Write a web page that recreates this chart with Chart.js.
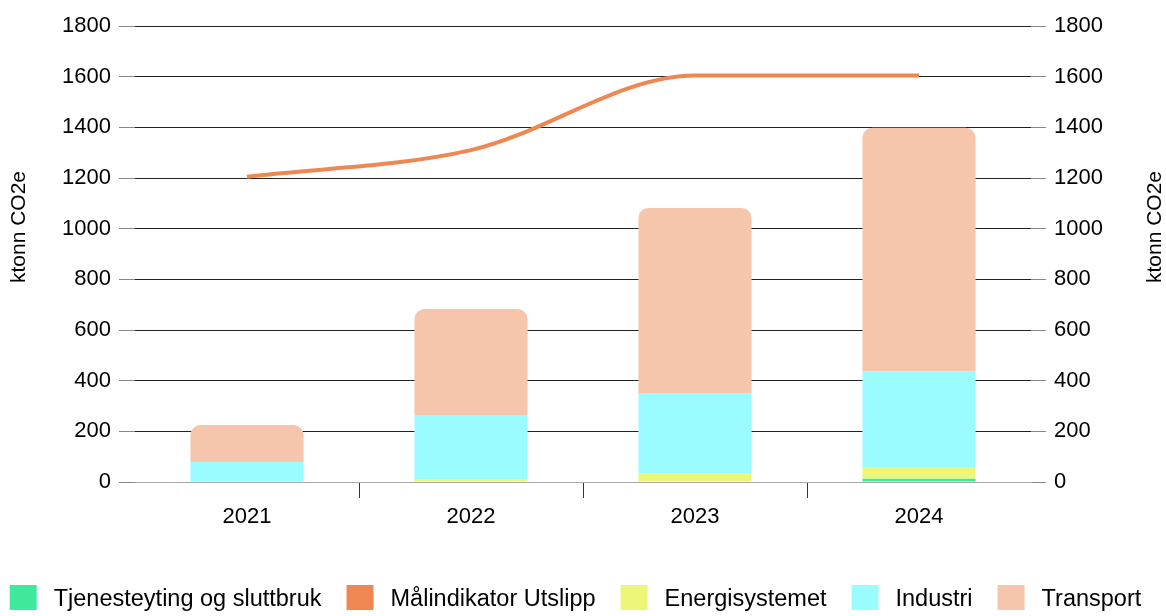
<!DOCTYPE html>
<html>
<head>
<meta charset="utf-8">
<script src="https://cdn.jsdelivr.net/npm/chart.js@4/dist/chart.umd.min.js"></script>
<style>
  html, body { margin: 0; padding: 0; background: #fff; }
  #wrap { width: 1166px; height: 616px; position: relative; }
</style>
</head>
<body>
<div id="wrap"><canvas id="c" width="1166" height="616"></canvas></div>
<script>
const categories = ['2021', '2022', '2023', '2024'];
const tjenesteyting = [0, 0, 0, 13];
const malindikator = [1205, 1310, 1605, 1605];
const energisystemet = [2, 11, 33, 43];
const industri = [77, 253, 318, 381];
const transport = [146, 419, 731, 961];
const yTicks = [0, 200, 400, 600, 800, 1000, 1200, 1400, 1600, 1800];
const axisTitle = 'ktonn CO2e';

const FONT = "'Liberation Sans', Arial, sans-serif";

const titlesPlugin = {
  id: 'axisTitles',
  afterDraw(chart) {
    const ctx = chart.ctx;
    [[19, 227], [1155, 227]].forEach(([x, y]) => {
      ctx.save();
      ctx.fillStyle = '#000';
      ctx.font = '21px ' + FONT;
      ctx.textAlign = 'center';
      ctx.textBaseline = 'middle';
      ctx.translate(x, y);
      ctx.rotate(-Math.PI / 2);
      ctx.fillText(axisTitle, 0, 0);
      ctx.restore();
    });
  }
};

const legendPlugin = {
  id: 'customLegend',
  afterDraw(chart) {
    const ctx = chart.ctx;
    ctx.save();
    ctx.font = '23.5px ' + FONT;
    const boxW = 27, boxH = 25, textGap = 44, itemGap = 25;
    const items = chart.data.datasets.map(d => ({
      text: d.label,
      color: d.type === 'line' ? d.borderColor : d.backgroundColor
    }));
    let total = 0;
    items.forEach((it, i) => {
      it.w = ctx.measureText(it.text).width;
      total += textGap + it.w + (i < items.length - 1 ? itemGap : 0);
    });
    let x = 575.5 - total / 2;
    const boxTop = 585;
    items.forEach(it => {
      ctx.fillStyle = it.color;
      ctx.fillRect(x, boxTop, boxW, boxH);
      ctx.fillStyle = '#000';
      ctx.textAlign = 'left';
      ctx.textBaseline = 'middle';
      ctx.fillText(it.text, x + textGap, boxTop + boxH / 2 + 2);
      x += textGap + it.w + itemGap;
    });
    ctx.restore();
  }
};

new Chart(document.getElementById('c'), {
  data: {
    labels: categories,
    datasets: [
      { type: 'bar', label: 'Tjenesteyting og sluttbruk', data: tjenesteyting, backgroundColor: '#40E89C', yAxisID: 'y', stack: 's' },
      { type: 'line', label: 'Målindikator Utslipp', data: malindikator, borderColor: '#EE8752', backgroundColor: '#EE8752',
        borderWidth: 4, pointRadius: 0, pointHoverRadius: 0, cubicInterpolationMode: 'monotone', fill: false, yAxisID: 'y1' },
      { type: 'bar', label: 'Energisystemet', data: energisystemet, backgroundColor: '#EEF679', yAxisID: 'y', stack: 's' },
      { type: 'bar', label: 'Industri', data: industri, backgroundColor: '#9AFCFE', yAxisID: 'y', stack: 's' },
      { type: 'bar', label: 'Transport', data: transport, backgroundColor: '#F6C6AC', yAxisID: 'y', stack: 's',
        borderRadius: { topLeft: 10, topRight: 10, bottomLeft: 0, bottomRight: 0 }, borderSkipped: false }
    ]
  },
  options: {
    responsive: false,
    animation: false,
    layout: { padding: { top: 26, left: 0, right: 0, bottom: 0 } },
    datasets: { bar: { categoryPercentage: 1, barPercentage: 0.505 } },
    plugins: { legend: { display: false }, tooltip: { enabled: false } },
    scales: {
      x: {
        stacked: true,
        offset: true,
        afterFit(s) { s.height = 134; },
        grid: {
          offset: true, drawOnChartArea: false, tickLength: 16,
          color: ctx => (ctx.type !== 'tick' || ctx.index === 0 || ctx.index >= categories.length) ? 'rgba(0,0,0,0)' : '#333'
        },
        border: { display: true, color: '#aaa', width: 1 },
        ticks: { color: '#000', font: { family: FONT, size: 22 }, padding: 6 }
      },
      y: {
        position: 'left',
        stacked: true,
        min: 0, max: 1800,
        afterFit(s) { s.width = 135; },
        afterBuildTicks(s) { s.ticks = yTicks.map(v => ({ value: v })); },
        grid: {
          tickLength: 16,
          color: ctx => ctx.tick && ctx.tick.value === 0 ? '#aaa' : '#222',
          tickColor: '#888'
        },
        border: { display: false },
        ticks: { color: '#000', font: { family: FONT, size: 22 }, padding: 8, callback: v => String(v) }
      },
      y1: {
        position: 'right',
        stacked: false,
        min: 0, max: 1800,
        afterFit(s) { s.width = 135; },
        afterBuildTicks(s) { s.ticks = yTicks.map(v => ({ value: v })); },
        grid: { drawOnChartArea: false, tickLength: 15, tickColor: '#888' },
        border: { display: false },
        ticks: { color: '#000', font: { family: FONT, size: 22 }, padding: 8, callback: v => String(v) }
      }
    }
  },
  plugins: [titlesPlugin, legendPlugin]
});
</script>
</body>
</html>
